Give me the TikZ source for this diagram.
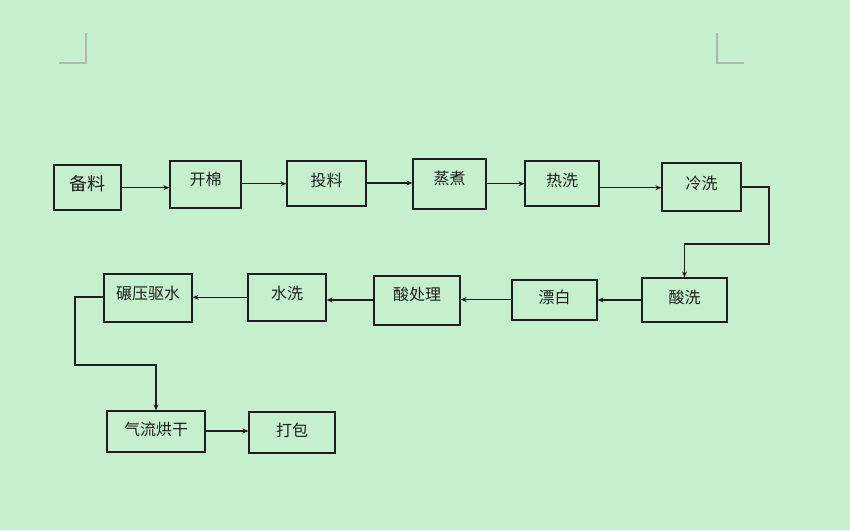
\documentclass[tikz,border=0pt]{standalone}
\usepackage{fontspec}
\newfontfamily\cjk{Noto Sans CJK SC}
\usetikzlibrary{arrows.meta}
\definecolor{bg}{RGB}{198,239,206}
\definecolor{mark}{RGB}{176,184,176}
\definecolor{ink}{RGB}{30,30,30}
\newcommand{\rt}[2]{\raisebox{#1pt}[\height][\depth]{#2}}
\begin{document}
\begin{tikzpicture}[x=1pt,y=-1pt,
  box/.style={draw=ink,line width=1.2pt,inner sep=0pt,font=\cjk\fontsize{16}{16}\selectfont,text=ink},
  conn/.style={draw=ink,line width=1.3pt,-{Stealth[length=6pt,width=5pt]}},
  cornermark/.style={draw=mark,line width=1.5pt}]
\fill[bg] (0,0) rectangle (850,530);
\useasboundingbox (0,0) rectangle (850,530);
% corner marks
\draw[cornermark] (59,63) -- (86,63) -- (86,33);
\draw[cornermark] (717,33) -- (717,63) -- (744,63);
% row 1
\node[box,minimum width=67pt,minimum height=45pt,font=\cjk\fontsize{18}{18}\selectfont] (beiliao) at (87.5,187.5) {\rt{4}{备料}};
\node[box,minimum width=71pt,minimum height=47pt] (kaimian) at (205.5,184.5) {\rt{5}{开棉}};
\node[box,minimum width=79pt,minimum height=45pt] (touliao) at (326.5,183.5) {\rt{3}{投料}};
\node[box,minimum width=73pt,minimum height=50pt] (zhengzhu) at (449.5,184) {\rt{5.5}{蒸煮}};
\node[box,minimum width=74pt,minimum height=45pt] (rexi) at (562,183.5) {\rt{3.5}{热洗}};
\node[box,minimum width=79pt,minimum height=48pt] (lengxi) at (701.5,187) {\rt{4}{冷洗}};
% row 2
\node[box,minimum width=85pt,minimum height=44pt] (suanxi) at (684.5,300) {\rt{3}{酸洗}};
\node[box,minimum width=85pt,minimum height=40pt] (piaobai) at (554.5,300) {\rt{3}{漂白}};
\node[box,minimum width=86pt,minimum height=49pt] (suanchuli) at (417,300.5) {\rt{6}{酸处理}};
\node[box,minimum width=78pt,minimum height=47pt] (shuixi) at (287,297.5) {\rt{4}{水洗}};
\node[box,minimum width=88pt,minimum height=48pt] (nianya) at (148,298) {\rt{4.5}{碾压驱水}};
% row 3
\node[box,minimum width=98pt,minimum height=41pt] (qiliu) at (156,431.5) {\rt{2.5}{气流烘干}};
\node[box,minimum width=86pt,minimum height=41pt] (dabao) at (292,432.5) {\rt{2.5}{打包}};
% bend coordinates
\coordinate (b1) at (769,244);
\coordinate (b2) at (75,365);
% connectors
\draw[conn] (beiliao.east |- 0,187.7) -- (kaimian.west |- 0,187.7);
\draw[conn] (kaimian.east |- 0,183.7) -- (touliao.west |- 0,183.7);
\draw[conn] (touliao.east |- 0,183) -- (zhengzhu.west |- 0,183);
\draw[conn] (zhengzhu.east |- 0,183.7) -- (rexi.west |- 0,183.7);
\draw[conn] (rexi.east |- 0,187.7) -- (lengxi.west |- 0,187.7);
\draw[conn] (lengxi.east) -| (b1) -| (suanxi.north);
\draw[conn] (suanxi.west) -- (piaobai.east);
\draw[conn] (piaobai.west |- 0,299.5) -- (suanchuli.east |- 0,299.5);
\draw[conn] (suanchuli.west |- 0,300) -- (shuixi.east |- 0,300);
\draw[conn] (shuixi.west |- 0,297.3) -- (nianya.east |- 0,297.3);
\draw[conn] (nianya.west |- 0,297) -| (b2) -| (qiliu.north);
\draw[conn] (qiliu.east |- 0,431) -- (dabao.west |- 0,431);
\end{tikzpicture}
\end{document}
